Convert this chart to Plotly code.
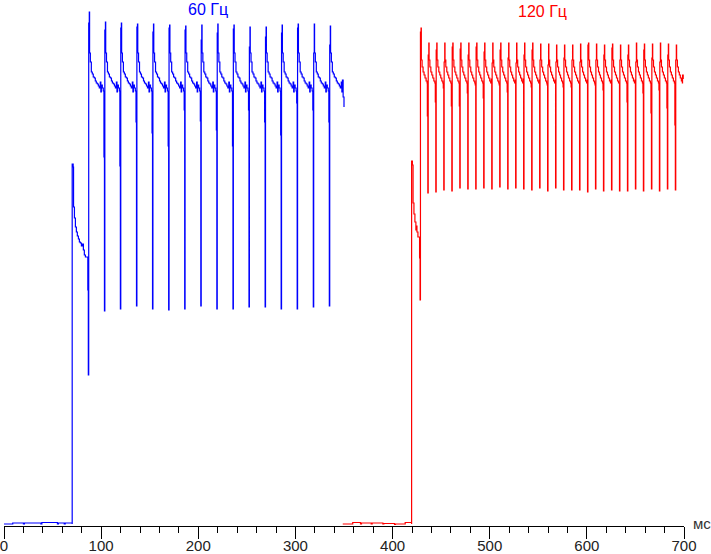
import plotly.graph_objects as go

# 60 Hz trace (blue), time in ms, level in relative units (0 = black)
blue_base_t = [0, 8, 9, 20, 21, 38, 39, 55, 56, 62, 63, 70.2]
blue_base_v = [1, 1, 2, 1, 2, 1, 2.5, 1, 2, 1, 2, 1]
blue_lead_t = [70.2, 71.2, 71.6, 72.5, 73.5, 74.5, 75.5, 76.6, 77.6, 78.6, 79.7, 80.7, 81.7, 82.7, 83.8]
blue_lead_v = [361, 358, 318, 307, 298, 293, 289, 286, 283, 282, 279, 281, 275, 270, 268]
blue_spike_t = [86.8, 103.4, 119.8, 136.4, 152.9, 169.5, 186.0, 202.6,
                219.1, 235.7, 252.2, 268.8, 285.3, 301.8, 318.4, 334.9]
blue_pre = [235, 368, 359, 403, 392, 379, 415, 404, 395, 379, 415, 403, 390, 422, 415, 403]
blue_low = [150, 214, 216, 219, 216, 215, 216, 219, 216, 216, 218, 218, 216, 216, 218, 219]
blue_top = [502, 495, 497, 498, 493, 497, 495, 485, 492, 496, 478, 488, 492, 497, 472, 480]
blue_peak = [513, 503, 502, 501, 501, 500, 499, 500, 501, 500, 498, 498, 500, 501, 501, 499]
blue_decay_dt = [1.3, 2.1, 3.1, 4.1, 5.1, 6.2, 7.2, 8.2, 9.3, 10.3, 11.3, 12.3, 12.9, 13.4, 14.4, 15.4]
blue_decay_v = [472, 463, 453, 451, 448, 447, 444, 442, 441, 439, 437, 443, 433, 440, 437, 434]
blue_tail_t = [348.4, 349.1, 350.0]
blue_tail_v = [445, 428, 418]

# 120 Hz trace (red)
red_base_t = [348.7, 358, 359, 367, 368, 378, 379, 390, 391, 402, 403, 412, 413, 419.6]
red_base_v = [1, 1, 2.5, 1, 2, 1, 2, 1, 1.5, 0.5, 1, 1, 2.5, 1]
red_lead_t = [419.6, 420.4, 421.1, 422.0, 423.0, 424.0, 424.5, 425.1, 426.1]
red_lead_v = [364, 360, 322, 311, 303, 295, 299, 293, 288]
red_spike_t = [428.3, 436.3, 444.5, 452.7, 461.0, 469.2, 477.4, 485.6, 493.8, 502.1, 510.3,
               518.5, 526.7, 534.9, 543.2, 551.4, 559.6, 567.8, 576.0, 584.3, 592.5, 600.7,
               608.9, 617.1, 625.4, 633.6, 641.8, 650.0, 658.2, 666.5, 674.7, 682.9, 691.1]
red_pre = [267, 409, 423, 437, 419, 419, 432, 440, 427, 446, 440, 433, 445, 446, 438, 445, 440,
           445, 438, 438, 442, 445, 440, 435, 445, 442, 423, 445, 432, 412, 435, 417, 400]
red_low = [225, 332, 333, 335, 334, 337, 336, 336, 337, 336, 338, 336, 337, 336, 335, 337, 334,
           337, 335, 335, 335, 333, 336, 334, 335, 334, 334, 336, 334, 336, 334, 336, 335]
red_top = [493, 470, 475, 463, 478, 476, 470, 478, 473, 462, 475, 467, 462, 470, 475, 465, 460,
           463, 467, 465, 463, 480, 465, 470, 477, 465, 470, 463, 475, 467, 463, 470, 465]
red_peak = [497, 482, 482, 482, 482, 482, 482, 482, 482, 482, 482, 482, 482, 482, 482, 481, 481,
            480, 480, 480, 481, 482, 481, 480, 481, 480, 480, 482, 481, 481, 482, 481, 480]
red_decay_dt = [1.3, 2.1, 3.1, 4.1, 5.1, 6.2, 7.2]
red_decay_v = [465, 458, 453, 450, 447, 444, 442]
red_tail_t = [698.5, 699.2]
red_tail_v = [450, 446]

x_ticks = [0, 100, 200, 300, 400, 500, 600, 700]


def build(base_t, base_v, lead_t, lead_v, spike_t, pre, low, top, peak, dt, dv, tail_t, tail_v):
    t = list(base_t) + list(lead_t)
    v = list(base_v) + list(lead_v)
    for k, ts in enumerate(spike_t):
        t += [ts - 0.5, ts, ts + 0.4, ts + 1.0]
        v += [pre[k], low[k], top[k], peak[k]]
        for d, val in zip(dt, dv):
            if k == len(spike_t) - 1 and ts + d >= tail_t[0]:
                break
            t.append(ts + d)
            v.append(val)
    return t + list(tail_t), v + list(tail_v)


bt, bv = build(blue_base_t, blue_base_v, blue_lead_t, blue_lead_v, blue_spike_t, blue_pre,
               blue_low, blue_top, blue_peak, blue_decay_dt, blue_decay_v, blue_tail_t, blue_tail_v)
rt, rv = build(red_base_t, red_base_v, red_lead_t, red_lead_v, red_spike_t, red_pre,
               red_low, red_top, red_peak, red_decay_dt, red_decay_v, red_tail_t, red_tail_v)

fig = go.Figure()
fig.add_trace(go.Scatter(x=bt, y=bv, mode="lines", line=dict(color="#0000ff", width=1.2, shape="hv"),
                         showlegend=False, hoverinfo="skip"))
fig.add_trace(go.Scatter(x=rt, y=rv, mode="lines", line=dict(color="#ff0000", width=1.2, shape="hv"),
                         showlegend=False, hoverinfo="skip"))

font = "Liberation Sans, Arial, sans-serif"
fig.add_annotation(x=210, y=516, text="60 Гц", showarrow=False, font=dict(family=font, size=16, color="#0000ff"))
fig.add_annotation(x=554, y=514, text="120 Гц", showarrow=False, font=dict(family=font, size=16, color="#ff0000"))
fig.add_annotation(xref="paper", yref="paper", x=1.0265, y=0.004, text="мс", showarrow=False,
                   xanchor="center", yanchor="middle", font=dict(family=font, size=15, color="#333333"))

fig.update_layout(
    width=711, height=554,
    margin=dict(l=4, r=27, t=0, b=28, autoexpand=False),
    plot_bgcolor="white", paper_bgcolor="white",
    font=dict(family=font, size=15, color="#222222"),
)
fig.update_xaxes(
    range=[0, 700], tickvals=x_ticks, ticks="outside", ticklen=12, tickcolor="black", tickwidth=1,
    showline=True, linecolor="black", linewidth=1, showgrid=False, zeroline=False,
    automargin=False, ticklabelstandoff=-6, ticklabeloverflow="allow",
    minor=dict(dtick=20, ticks="outside", ticklen=6, tickcolor="black", showgrid=False),
)
fig.update_yaxes(range=[-1, 525], visible=False, automargin=False)

# page body has a default 8px margin; drop it so the figure fills the window
fig.write_html("out.html", config={"displayModeBar": False},
               post_script="document.body.style.margin='0';")
